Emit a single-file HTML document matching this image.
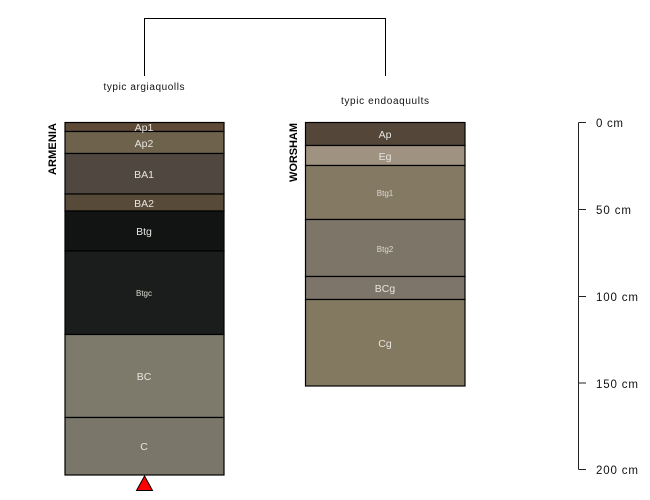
<!DOCTYPE html>
<html>
<head>
<meta charset="utf-8">
<style>
html,body{margin:0;padding:0;background:#fff;width:650px;height:500px;overflow:hidden}
svg{display:block}
text{font-family:"Liberation Sans",sans-serif}
.h{fill:#e6e4de;font-size:10.5px;text-anchor:middle}
.s{fill:#dcdad3;font-size:8px;text-anchor:middle}
.t{fill:#111;font-size:10px;text-anchor:middle}
.d{fill:#111;font-size:11.5px}
.n{fill:#000;font-size:11px;font-weight:bold;text-anchor:middle}
</style>
</head>
<body>
<svg width="650" height="500" viewBox="0 0 650 500" xmlns="http://www.w3.org/2000/svg">
<path d="M144.500 76V18.500H385.500V76" fill="none" stroke="#000" stroke-width="1"/>
<text class="t" x="144" y="90" textLength="81">typic argiaquolls</text>
<text class="t" x="385" y="104" textLength="88">typic endoaquults</text>

<g stroke="#000" stroke-width="1.2">
<rect x="65" y="122.500" width="159" height="9" fill="#5e4a36"/>
<rect x="65" y="131.500" width="159" height="22" fill="#6e624d"/>
<rect x="65" y="153.500" width="159" height="40.500" fill="#504840"/>
<rect x="65" y="194" width="159" height="17" fill="#574a38"/>
<rect x="65" y="211" width="159" height="40" fill="#121414"/>
<rect x="65" y="251" width="159" height="83.500" fill="#1b1d1c"/>
<rect x="65" y="334.500" width="159" height="83" fill="#7d7a6c"/>
<rect x="65" y="417.500" width="159" height="57.500" fill="#7a776a"/>

<rect x="305.500" y="122.500" width="159.500" height="23" fill="#54473a"/>
<rect x="305.500" y="145.500" width="159.500" height="20" fill="#a09280"/>
<rect x="305.500" y="165.500" width="159.500" height="54" fill="#847a63"/>
<rect x="305.500" y="219.500" width="159.500" height="57" fill="#7d7568"/>
<rect x="305.500" y="276.500" width="159.500" height="23" fill="#7d7569"/>
<rect x="305.500" y="299.500" width="159.500" height="86.500" fill="#837860"/>
</g>

<text class="h" x="144" y="131">Ap1</text>
<text class="h" x="144" y="147">Ap2</text>
<text class="h" x="144" y="178">BA1</text>
<text class="h" x="144" y="207">BA2</text>
<text class="h" x="144" y="235">Btg</text>
<text class="s" x="144" y="296">Btgc</text>
<text class="h" x="144" y="380">BC</text>
<text class="h" x="144" y="450">C</text>

<text class="h" x="385" y="138">Ap</text>
<text class="h" x="385" y="160">Eg</text>
<text class="s" x="385" y="196">Btg1</text>
<text class="s" x="385" y="252">Btg2</text>
<text class="h" x="385" y="292">BCg</text>
<text class="h" x="385" y="347">Cg</text>

<text class="n" transform="translate(56,149) rotate(-90)" textLength="52">ARMENIA</text>
<text class="n" transform="translate(297,152.500) rotate(-90)" textLength="59">WORSHAM</text>

<polygon points="144.500,476 152.500,490.500 136.500,490.500" fill="#f00" stroke="#000" stroke-width="1"/>

<path d="M578.500 122.500V469.500M578.500 122.500H586M578.500 209.500H586M578.500 296.500H586M578.500 383H586M578.500 469.500H586" fill="none" stroke="#222" stroke-width="1"/>
<text class="d" x="596" y="127" textLength="27">0 cm</text>
<text class="d" x="596" y="214" textLength="35">50 cm</text>
<text class="d" x="596" y="301" textLength="42">100 cm</text>
<text class="d" x="596" y="388" textLength="42">150 cm</text>
<text class="d" x="596" y="474" textLength="42">200 cm</text>
</svg>
</body>
</html>
